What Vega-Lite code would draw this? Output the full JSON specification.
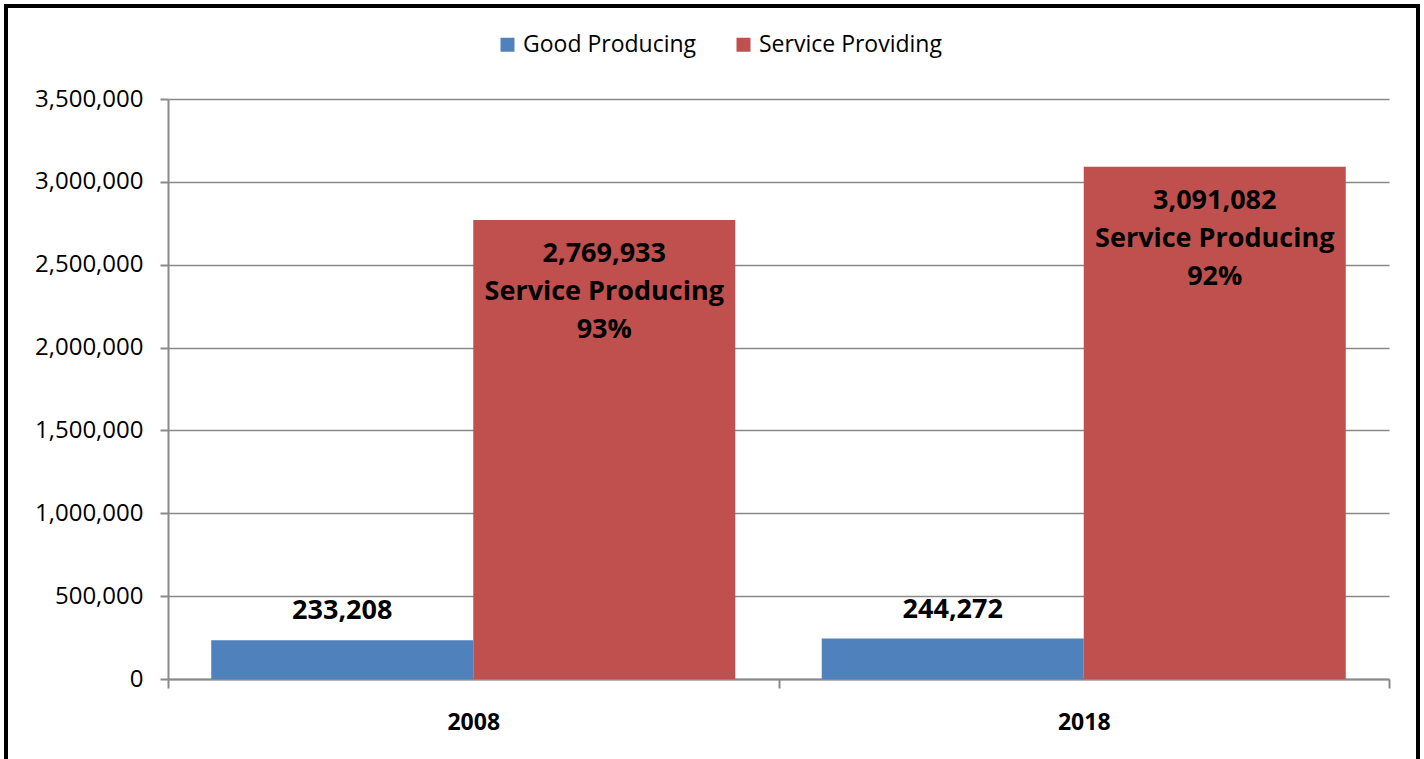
{
  "$schema": "https://vega.github.io/schema/vega-lite/v6.json",
  "autosize": "none",
  "width": 1412,
  "height": 758,
  "padding": {"left": 6, "top": 6, "right": 6, "bottom": 0},
  "background": "white",
  "config": {
    "view": {"stroke": "black", "strokeWidth": 4},
    "font": "Open Sans"
  },
  "data": {
    "values": [
      {"year": "2008", "sector": "Good Producing", "jobs": 233208, "label": "233,208"},
      {"year": "2008", "sector": "Service Providing", "jobs": 2769933, "label": "2,769,933\nService Producing\n93%"},
      {"year": "2018", "sector": "Good Producing", "jobs": 244272, "label": "244,272"},
      {"year": "2018", "sector": "Service Providing", "jobs": 3091082, "label": "3,091,082\nService Producing\n92%"}
    ]
  },
  "encoding": {
    "x": {
      "field": "year", "type": "nominal",
      "scale": {"range": [162, 1383], "paddingInner": 0, "paddingOuter": 0},
      "axis": {
        "orient": "bottom", "offset": -85, "title": null, "labelAngle": 0,
        "domainColor": "#898989", "domainWidth": 2,
        "tickBand": "extent", "tickColor": "#898989", "tickWidth": 2, "tickSize": 9,
        "labelFont": "Open Sans", "labelFontSize": 23, "labelFontWeight": "bold", "labelColor": "black",
        "labelBaseline": "alphabetic", "labelPadding": 41, "grid": false
      }
    },
    "xOffset": {
      "field": "sector", "type": "nominal",
      "scale": {"paddingOuter": 0.165, "paddingInner": 0}
    },
    "y": {
      "field": "jobs", "type": "quantitative",
      "scale": {"domain": [0, 3500000], "range": [673, 93], "nice": false},
      "axis": {
        "orient": "left", "offset": -162, "title": null,
        "values": [0, 500000, 1000000, 1500000, 2000000, 2500000, 3000000, 3500000],
        "format": ",.0f",
        "domainColor": "#898989", "domainWidth": 2,
        "tickColor": "#898989", "tickWidth": 2, "tickSize": 8,
        "grid": true, "gridColor": "#898989", "gridWidth": 1.6,
        "labelFont": "Open Sans", "labelFontSize": 24, "labelColor": "black", "labelPadding": 17
      }
    }
  },
  "layer": [
    {
      "mark": {"type": "bar"},
      "encoding": {
        "color": {
          "field": "sector", "type": "nominal",
          "scale": {"domain": ["Good Producing", "Service Providing"], "range": ["#4F81BD", "#C0504D"]},
          "legend": {
            "orient": "none", "legendX": 490, "legendY": 27, "direction": "horizontal",
            "title": null, "padding": 0,
            "symbolType": "square", "symbolSize": 196, "symbolStrokeWidth": 0,
            "labelFont": "Open Sans", "labelFontSize": 23, "labelColor": "black",
            "labelOffset": 4, "columnPadding": 35, "labelLimit": 400
          }
        }
      }
    },
    {
      "transform": [{"filter": "datum.sector === 'Good Producing'"}],
      "mark": {"type": "text", "font": "Open Sans", "fontSize": 27, "fontWeight": "bold", "color": "black", "baseline": "alphabetic", "align": "center", "dy": -21},
      "encoding": {"text": {"field": "label"}}
    },
    {
      "transform": [{"filter": "datum.sector === 'Service Providing'"}],
      "mark": {"type": "text", "font": "Open Sans", "fontSize": 27, "fontWeight": "bold", "color": "black", "baseline": "alphabetic", "align": "center", "dy": 42, "lineBreak": "\n", "lineHeight": 38},
      "encoding": {"text": {"field": "label"}}
    }
  ]
}
